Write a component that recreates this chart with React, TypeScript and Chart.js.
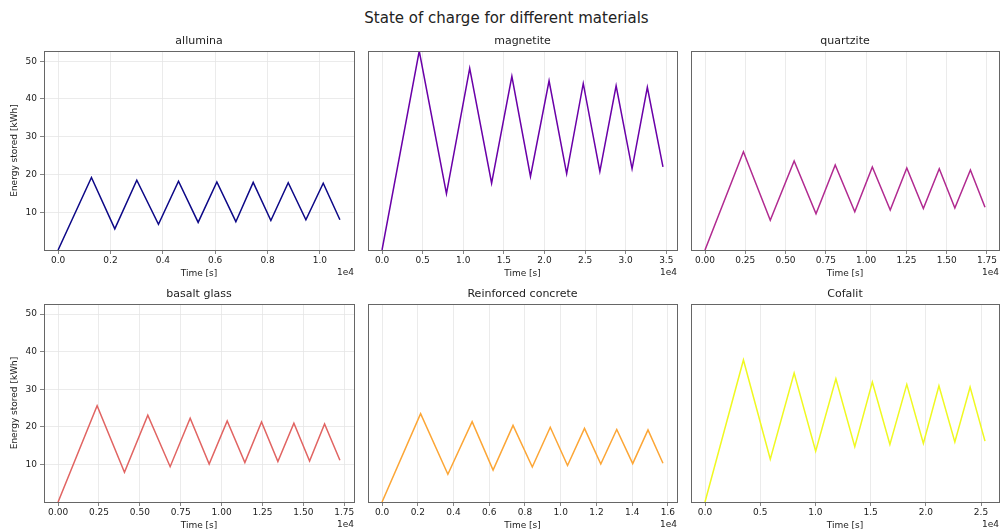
import React, { useEffect, useRef } from "react";
import { Chart, registerables } from "chart.js";
Chart.register(...registerables);

const FONT = '"DejaVu Sans", sans-serif';
const SUPTITLE = "State of charge for different materials";
const Y_LABEL = "Energy stored [kWh]";
const X_LABEL = "Time [s]";
const OFFSET_TEXT = "1e4";

const titles = ["allumina", "magnetite", "quartzite", "basalt glass", "Reinforced concrete", "Cofalit"];
const colors = ["#0d0887", "#6a00a8", "#b12a90", "#e16462", "#fca636", "#f0f921"];

const alluminaTime = [0, 1274, 2166, 3006, 3834, 4599, 5350, 6064, 6790, 7452, 8127, 8790, 9465, 10127, 10764];
const alluminaEnergy = [0, 19.2, 5.6, 18.5, 6.8, 18.2, 7.3, 18.0, 7.5, 17.9, 7.8, 17.8, 8.0, 17.7, 8.0];

const magnetiteTime = [0, 4579, 7931, 10793, 13491, 15985, 18275, 20564, 22731, 24775, 26819, 28822, 30785, 32666, 34588];
const magnetiteEnergy = [0, 52.7, 14.9, 48.1, 17.7, 46.0, 19.5, 44.8, 20.2, 44.1, 20.8, 43.5, 21.5, 43.1, 22.0];

const quartziteTime = [0, 2385, 4051, 5532, 6889, 8081, 9295, 10384, 11495, 12523, 13551, 14538, 15505, 16471, 17376];
const quartziteEnergy = [0, 26.0, 7.9, 23.6, 9.6, 22.5, 10.1, 22.0, 10.6, 21.7, 11.0, 21.5, 11.1, 21.2, 11.3];

const basaltTime = [0, 2386, 4059, 5486, 6853, 8077, 9239, 10341, 11422, 12441, 13441, 14420, 15379, 16296, 17234];
const basaltEnergy = [0, 25.6, 7.9, 23.1, 9.4, 22.3, 10.1, 21.6, 10.5, 21.3, 10.8, 21.0, 10.9, 20.8, 11.1];

const concreteTime = [0, 2158, 3684, 5042, 6214, 7330, 8409, 9414, 10381, 11330, 12242, 13135, 14028, 14884, 15721];
const concreteEnergy = [0, 23.5, 7.4, 21.4, 8.5, 20.4, 9.3, 19.9, 9.7, 19.6, 10.1, 19.3, 10.2, 19.2, 10.3];

const cofalitTime = [0, 3481, 5912, 8073, 10024, 11855, 13565, 15156, 16747, 18277, 19778, 21188, 22629, 24010, 25360];
const cofalitEnergy = [0, 37.8, 11.4, 34.3, 13.5, 32.8, 14.7, 31.9, 15.3, 31.3, 15.6, 30.9, 16.0, 30.6, 16.2];

const yTicks = [10, 20, 30, 40, 50];
const alluminaXTicks = [0, 2000, 4000, 6000, 8000, 10000];
const magnetiteXTicks = [0, 5000, 10000, 15000, 20000, 25000, 30000, 35000];
const quartziteXTicks = [0, 2500, 5000, 7500, 10000, 12500, 15000, 17500];
const basaltXTicks = [0, 2500, 5000, 7500, 10000, 12500, 15000, 17500];
const concreteXTicks = [0, 2000, 4000, 6000, 8000, 10000, 12000, 14000, 16000];
const cofalitXTicks = [0, 5000, 10000, 15000, 20000, 25000];
const xTickDecimals = [1, 1, 2, 2, 1, 1];

const times = [alluminaTime, magnetiteTime, quartziteTime, basaltTime, concreteTime, cofalitTime];
const energies = [alluminaEnergy, magnetiteEnergy, quartziteEnergy, basaltEnergy, concreteEnergy, cofalitEnergy];
const xTicksAll = [alluminaXTicks, magnetiteXTicks, quartziteXTicks, basaltXTicks, concreteXTicks, cofalitXTicks];

// layout: cells and plot rectangles (page pixels)
const cells = [
  { x: 0, w: 361 },
  { x: 361, w: 322 },
  { x: 683, w: 340 },
];
const rows = [
  { y: 28, h: 257 },
  { y: 285, h: 247 },
];
const plotCols = [
  { L: 44, R: 354 },
  { L: 368, R: 677 },
  { L: 691, R: 999 },
];
const plotRows = [
  { T: 51, B: 250 },
  { T: 304, B: 502 },
];

const XH = 30;

function SubChart({ idx }: { idx: number }) {
  const ref = useRef<HTMLCanvasElement | null>(null);
  const col = idx % 3;
  const row = Math.floor(idx / 3);
  const cell = cells[col];
  const r = rows[row];
  const pc = plotCols[col];
  const pr = plotRows[row];
  const YW = col === 0 ? 30 : 0;

  useEffect(() => {
    if (!ref.current) return;
    const t = times[idx];
    const e = energies[idx];
    const tMax = Math.max(...t);
    const yMax = Math.max(...energies.map((a) => Math.max(...a)));
    const xt = xTicksAll[idx];
    const dec = xTickDecimals[idx];
    const decor = {
      id: "decor",
      afterDraw(chart: any) {
        const { ctx, chartArea: a } = chart;
        ctx.save();
        ctx.strokeStyle = "#666";
        ctx.lineWidth = 1;
        ctx.strokeRect(Math.round(a.left) + 0.5, Math.round(a.top) + 0.5, Math.round(a.right - a.left), Math.round(a.bottom - a.top));
        ctx.fillStyle = "#222";
        ctx.textAlign = "center";
        ctx.textBaseline = "middle";
        ctx.font = `11px ${FONT}`;
        ctx.fillText(titles[idx], (a.left + a.right) / 2, a.top - 9.5);
        ctx.font = `9px ${FONT}`;
        ctx.fillText(X_LABEL, (a.left + a.right) / 2, a.bottom + 24);
        ctx.textAlign = "right";
        ctx.fillText(OFFSET_TEXT, a.right, a.bottom + 23);
        if (col === 0) {
          ctx.translate(15, (a.top + a.bottom) / 2);
          ctx.rotate(-Math.PI / 2);
          ctx.textAlign = "center";
          ctx.fillText(Y_LABEL, 0, 0);
        }
        ctx.restore();
      },
    };
    const chart = new Chart(ref.current, {
      type: "line",
      data: {
        datasets: [
          {
            data: t.map((x, i) => ({ x, y: e[i] })),
            borderColor: colors[idx],
            borderWidth: 1.5,
            pointRadius: 0,
            fill: false,
            tension: 0,
          },
        ],
      },
      options: {
        animation: false,
        responsive: false,
        maintainAspectRatio: false,
        layout: {
          padding: {
            left: pc.L - cell.x - YW,
            top: pr.T - r.y,
            right: cell.x + cell.w - pc.R,
            bottom: r.y + r.h - pr.B - XH,
          },
        },
        plugins: {
          legend: { display: false },
          tooltip: { enabled: false },
          title: { display: false },
        },
        scales: {
          x: {
            type: "linear",
            bounds: "data",
            min: -0.05 * tMax,
            max: 1.05 * tMax,
            afterBuildTicks: (s: any) => {
              s.ticks = xt.map((v) => ({ value: v }));
            },
            afterFit: (s: any) => {
              s.height = XH;
              s.paddingLeft = 0;
              s.paddingRight = 0;
            },
            ticks: {
              callback: (v: any) => (Number(v) / 1e4).toFixed(dec),
              font: { family: FONT, size: 9 },
              color: "#222",
              padding: 1,
              maxRotation: 0,
              autoSkip: false,
            },
            grid: { color: "#e6e6e6", lineWidth: 0.8, tickColor: "#666", tickLength: 4 },
            border: { display: false },
          },
          y: {
            type: "linear",
            bounds: "data",
            min: 0,
            max: yMax,
            afterBuildTicks: (s: any) => {
              s.ticks = yTicks.map((v) => ({ value: v }));
            },
            afterFit: (s: any) => {
              s.width = YW;
              s.paddingTop = 0;
              s.paddingBottom = 0;
            },
            ticks: {
              display: col === 0,
              font: { family: FONT, size: 9 },
              color: "#222",
              padding: 3,
            },
            grid: { display: col === 0, color: "#e6e6e6", lineWidth: 0.8, tickColor: "#666", tickLength: 4 },
            border: { display: false },
          },
        },
      },
      plugins: [decor],
    } as any);
    return () => chart.destroy();
  }, [idx]);

  return (
    <canvas
      ref={ref}
      width={cell.w}
      height={r.h}
      style={{ position: "absolute", left: cell.x, top: r.y, width: cell.w, height: r.h }}
    />
  );
}

export default function App() {
  return (
    <div
      style={{
        position: "fixed",
        left: 0,
        top: 0,
        width: 1001,
        height: 532,
        overflow: "hidden",
        background: "#fff",
      }}
    >
      <div
        style={{
          position: "absolute",
          left: 0,
          width: 1013,
          top: 8,
          textAlign: "center",
          fontFamily: FONT,
          fontSize: 15,
          lineHeight: "20px",
          color: "#222",
        }}
      >
        {SUPTITLE}
      </div>
      {[0, 1, 2, 3, 4, 5].map((i) => (
        <SubChart key={i} idx={i} />
      ))}
    </div>
  );
}
